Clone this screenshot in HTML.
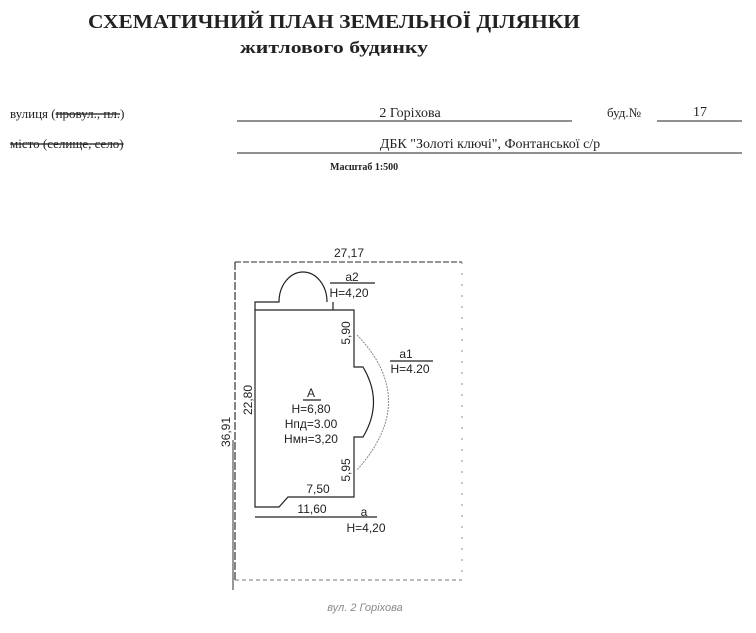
<!DOCTYPE html>
<html><head><meta charset="utf-8"><style>
html,body{margin:0;padding:0;background:#fff;width:756px;height:633px;overflow:hidden}
svg{display:block}
.s{font-family:"Liberation Serif",serif}
.a{font-family:"Liberation Sans",sans-serif;font-size:12px;fill:#222}
</style></head><body>
<svg width="756" height="633" viewBox="0 0 756 633" xmlns="http://www.w3.org/2000/svg">
<rect width="756" height="633" fill="#fff"/>
<text class="s" x="88" y="28" font-size="20" font-weight="bold" fill="#222" textLength="492" lengthAdjust="spacingAndGlyphs">СХЕМАТИЧНИЙ ПЛАН ЗЕМЕЛЬНОЇ ДІЛЯНКИ</text>
<text class="s" x="240" y="53" font-size="17" font-weight="bold" fill="#222" textLength="188" lengthAdjust="spacingAndGlyphs">житлового будинку</text>

<text class="s" x="10" y="118" font-size="13" fill="#222">вулиця (<tspan text-decoration="line-through">провул., пл.</tspan>)</text>
<text class="s" x="410" y="117" font-size="14" fill="#222" text-anchor="middle">2 Горіхова</text>
<line x1="237" y1="121" x2="572" y2="121" stroke="#222" stroke-width="1"/>
<text class="s" x="607" y="117" font-size="13" fill="#222">буд.№</text>
<text class="s" x="700" y="116" font-size="14" fill="#222" text-anchor="middle">17</text>
<line x1="657" y1="121" x2="742" y2="121" stroke="#222" stroke-width="1"/>
<text class="s" x="10" y="148" font-size="13" fill="#222" text-decoration="line-through">місто (селище, село)</text>
<text class="s" x="490" y="148" font-size="14" fill="#222" text-anchor="middle">ДБК "Золоті ключі", Фонтанської с/р</text>
<line x1="237" y1="153" x2="742" y2="153" stroke="#222" stroke-width="1"/>
<text class="s" x="330" y="170" font-size="10" font-weight="bold" fill="#222">Масштаб 1:500</text>

<line x1="235" y1="262" x2="462" y2="262" stroke="#555" stroke-width="1.2" stroke-dasharray="6,2"/>
<line x1="235" y1="262" x2="235" y2="582" stroke="#333" stroke-width="1.2" stroke-dasharray="8,2"/>
<line x1="235" y1="580" x2="462" y2="580" stroke="#777" stroke-width="1" stroke-dasharray="4,3"/>
<line x1="462" y1="262" x2="462" y2="580" stroke="#888" stroke-width="1" stroke-dasharray="2,9"/>

<g fill="none" stroke="#222" stroke-width="1.2">
<path d="M255,310 H354 V367 H363 Q384,402 363,437 H354 V497 H288 L279,507 H255 Z"/>
<path d="M255,310 V302 H279 A24,30 0 0 1 327,302 M333,302 V310"/>
<line x1="255" y1="517" x2="377" y2="517"/>
<line x1="330" y1="283" x2="375" y2="283"/>
<line x1="390" y1="361" x2="433" y2="361"/>
<line x1="303" y1="400" x2="321" y2="400"/>
</g>
<path d="M357,335 Q420,400 357,470" fill="none" stroke="#888" stroke-width="1" stroke-dasharray="2,1"/>
<line x1="233" y1="440" x2="233" y2="590" stroke="#333" stroke-width="1"/>

<text class="a" x="349" y="257" text-anchor="middle">27,17</text>
<text class="a" x="352" y="281" text-anchor="middle">a2</text>
<text class="a" x="349" y="297" text-anchor="middle">H=4,20</text>
<text class="a" x="406" y="358" text-anchor="middle">a1</text>
<text class="a" x="410" y="373" text-anchor="middle">H=4.20</text>
<text class="a" x="311" y="397" text-anchor="middle">A</text>
<text class="a" x="311" y="413" text-anchor="middle">H=6,80</text>
<text class="a" x="311" y="428" text-anchor="middle">Hпд=3.00</text>
<text class="a" x="311" y="443" text-anchor="middle">Hмн=3,20</text>
<text class="a" transform="translate(350,333) rotate(-90)" text-anchor="middle">5,90</text>
<text class="a" transform="translate(350,470) rotate(-90)" text-anchor="middle">5,95</text>
<text class="a" transform="translate(252,400) rotate(-90)" text-anchor="middle">22,80</text>
<text class="a" transform="translate(230,432) rotate(-90)" text-anchor="middle">36,91</text>
<text class="a" x="318" y="493" text-anchor="middle">7,50</text>
<text class="a" x="312" y="513" text-anchor="middle">11,60</text>
<text class="a" x="364" y="516" text-anchor="middle">a</text>
<text class="a" x="366" y="532" text-anchor="middle">H=4,20</text>
<text x="365" y="611" font-family="Liberation Sans,sans-serif" font-size="11" font-style="italic" fill="#888" text-anchor="middle">вул. 2 Горіхова</text>
</svg>
</body></html>
